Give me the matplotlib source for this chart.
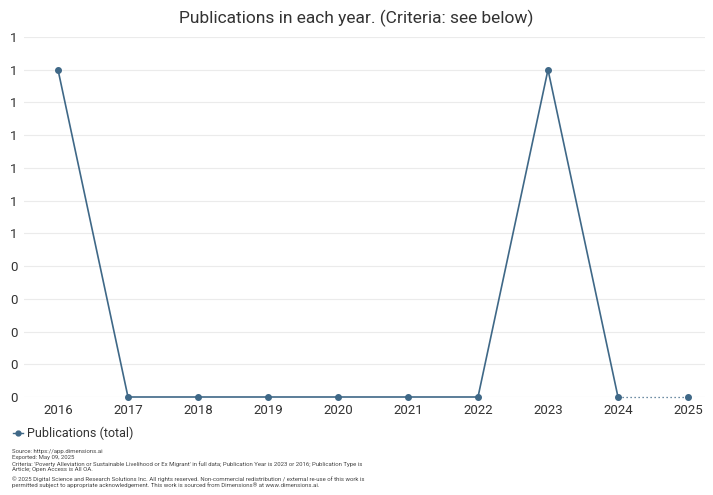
import matplotlib
matplotlib.use("Agg")
import matplotlib.pyplot as plt
from matplotlib.ticker import FixedLocator, FuncFormatter
from matplotlib.transforms import ScaledTranslation

plt.rcParams['font.family'] = ['Roboto', 'DejaVu Sans']

years = [2016, 2017, 2018, 2019, 2020, 2021, 2022, 2023, 2024, 2025]
pubs = [1, 0, 0, 0, 0, 0, 0, 1, 0, 0]
yticks = [i / 10 for i in range(12)]

line_color = "#3f6887"
text_color = "#333333"

fig = plt.figure(figsize=(7.13, 4.95), dpi=100)
W, H = 713, 495
ax = fig.add_axes([24 / W, 1 - 397 / H, (705 - 24) / W, (397 - 37) / H])

# solid part up to 2024, dotted for the current (incomplete) year
ax.plot(years[:-1], pubs[:-1], color=line_color, lw=1.2, marker="o", ms=4, clip_on=False, zorder=3)
ax.plot(years[-2:], pubs[-2:], color=line_color, lw=0.9, ls=(0, (1, 2.2)), clip_on=False, zorder=3)
ax.plot(years[-1:], pubs[-1:], color=line_color, marker="o", ms=4, ls="none", clip_on=False, zorder=3)

ax.set_xlim(2016 - 34 / 70, 2025 + 17 / 70)
ax.set_ylim(0, 1.1)
ax.yaxis.set_major_locator(FixedLocator(yticks))
ax.yaxis.set_major_formatter(FuncFormatter(lambda v, p: str(int(v + 0.5 + 1e-9))))
ax.set_xticks(years)
ax.grid(axis="y", color="#ebebeb", lw=0.8)
ax.set_axisbelow(True)
for s in ax.spines.values():
    s.set_visible(False)
ax.tick_params(length=0, labelsize=9.5, colors=text_color)
ax.tick_params(axis="x", pad=5)
ax.yaxis.set_tick_params(pad=0)
for lbl in ax.get_yticklabels():
    lbl.set_horizontalalignment("left")
    lbl.set_transform(lbl.get_transform() + ScaledTranslation(-14 / 100, 0, fig.dpi_scale_trans))

fig.text(0.5, 1 - 18 / H, "Publications in each year. (Criteria: see below)", ha="center", va="center",
         fontsize=12.5, color=text_color)

# legend
ly = 1 - 433 / H
fig.lines.append(plt.Line2D([13 / W, 16 / W], [ly, ly], color=line_color, lw=1, transform=fig.transFigure))
fig.lines.append(plt.Line2D([20 / W, 23 / W], [ly, ly], color=line_color, lw=1, transform=fig.transFigure))
fig.lines.append(plt.Line2D([18 / W], [ly], color=line_color, marker="o", ms=3.5, transform=fig.transFigure))
fig.text(27 / W, ly, "Publications (total)", ha="left", va="center", fontsize=9, color=text_color)

footer = [
    (452, "Source: https://app.dimensions.ai"),
    (458, "Exported: May 09, 2025"),
    (464, "Criteria: 'Poverty Alleviation or Sustainable Livelihood or Ex Migrant' in full data; Publication Year is 2023 or 2016; Publication Type is"),
    (470, "Article; Open Access is All OA."),
    (479, "\u00a9 2025 Digital Science and Research Solutions Inc. All rights reserved. Non-commercial redistribution / external re-use of this work is"),
    (485, "permitted subject to appropriate acknowledgement. This work is sourced from Dimensions\u00ae at www.dimensions.ai."),
]
for y, t in footer:
    fig.text(12 / W, 1 - y / H, t, ha="left", va="center", fontsize=4.3, color="#444444")

fig.savefig("out.png", dpi=100)
